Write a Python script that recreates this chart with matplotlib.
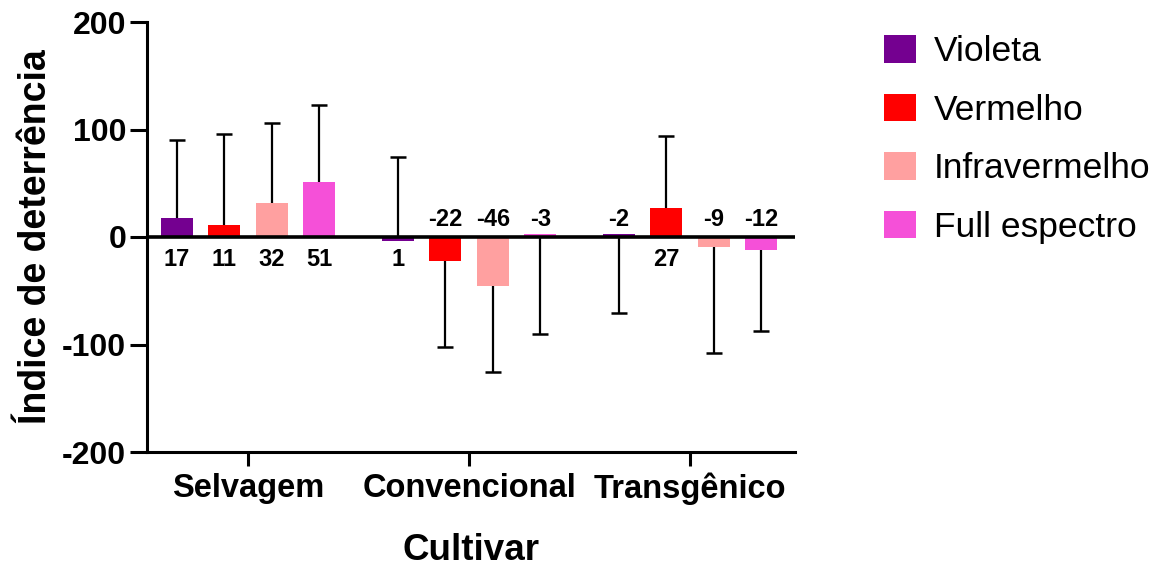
import numpy as np
import matplotlib
matplotlib.use('Agg')
import matplotlib.pyplot as plt
from matplotlib.patches import Patch

plt.rcParams['font.family'] = ['Liberation Sans', 'DejaVu Sans']
plt.rcParams['axes.unicode_minus'] = False

# data
cultivares = ['Selvagem', 'Convencional', 'Transgênico']
series = ['Violeta', 'Vermelho', 'Infravermelho', 'Full espectro']
cores = ['#740090', '#FF0000', '#FFA0A0', '#F550D8']

medias = {
    'Violeta':       [18, -4, 3],
    'Vermelho':      [11, -22, 27],
    'Infravermelho': [32, -46, -9],
    'Full espectro': [51, 3, -12],
}
desvios = {
    'Violeta':       [72, 78, 74],
    'Vermelho':      [85, 80, 67],
    'Infravermelho': [74, 80, 99],
    'Full espectro': [72, 93, 75],
}
# 1 = error bar drawn up, -1 = down
sentido = {
    'Violeta':       [1, 1, -1],
    'Vermelho':      [1, -1, 1],
    'Infravermelho': [1, -1, -1],
    'Full espectro': [1, -1, -1],
}
rotulos = {
    'Violeta':       ['17', '1', '-2'],
    'Vermelho':      ['11', '-22', '27'],
    'Infravermelho': ['32', '-46', '-9'],
    'Full espectro': ['51', '-3', '-12'],
}
# label above (1) or below (-1) the zero line
lado = {
    'Violeta':       [-1, -1, 1],
    'Vermelho':      [-1, 1, -1],
    'Infravermelho': [-1, 1, 1],
    'Full espectro': [-1, 1, 1],
}

fig = plt.figure(figsize=(11.54, 5.67), dpi=100)
ax = fig.add_axes([147/1154, 1-452/567, (795-147)/1154, (452-22)/567])

x = np.arange(len(cultivares))
passo = 0.215
larg = 0.145

for i, s in enumerate(series):
    xs = x + (i - 1.5) * passo
    m = np.array(medias[s])
    d = np.array(desvios[s]) * np.array(sentido[s])
    ax.bar(xs, m, width=larg, color=cores[i], linewidth=0, zorder=2)
    ax.vlines(xs, m, m + d, color='black', linewidth=1.6, zorder=1)
    ax.plot(xs, m + d, linestyle='none', marker='_', markersize=12,
            markeredgewidth=1.8, color='black', zorder=1)
    for xi, lab, ld in zip(xs, rotulos[s], lado[s]):
        if ld > 0:
            ax.annotate(lab, (xi, 0), xytext=(0, 4), textcoords='offset points',
                        ha='center', va='bottom', fontsize=17, fontweight='bold')
        else:
            ax.annotate(lab, (xi, 0), xytext=(0, -8), textcoords='offset points',
                        ha='center', va='top', fontsize=17, fontweight='bold')

ax.axhline(0, color='black', linewidth=2.6, zorder=3)

ax.set_xlim(-0.457, 2.475)
ax.set_ylim(-200, 200)
ax.set_yticks([-200, -100, 0, 100, 200])
ax.set_xticks(x)
ax.set_xticklabels(cultivares)

for sp in ['top', 'right']:
    ax.spines[sp].set_visible(False)
for sp in ['left', 'bottom']:
    ax.spines[sp].set_linewidth(2.2)

ax.tick_params(axis='y', length=12, width=2.2, pad=3, labelsize=23)
ax.tick_params(axis='x', length=10, width=2.2, pad=5, labelsize=23.5)
for t in ax.get_xticklabels() + ax.get_yticklabels():
    t.set_fontweight('bold')

ax.set_ylabel('Índice de deterrência', fontsize=27, fontweight='bold', labelpad=6)
ax.set_xlabel('Cultivar', fontsize=26.5, fontweight='bold', labelpad=20)

handles = [Patch(facecolor=c, edgecolor='none') for c in cores]
fig.legend(handles, series, loc='upper left', bbox_to_anchor=(884/1154, 1-35/567),
           frameon=False, fontsize=25.5, handlelength=0.9, handleheight=0.82,
           handletextpad=0.5, labelspacing=0.72, borderpad=0, borderaxespad=0)

fig.savefig('out.png', dpi=100)
